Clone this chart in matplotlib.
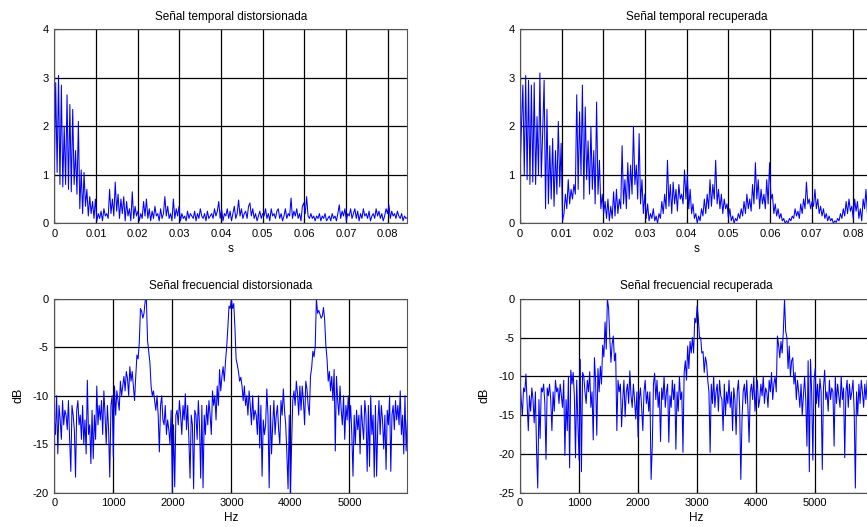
import numpy as np
import matplotlib
matplotlib.use("Agg")
import matplotlib.pyplot as plt

plt.rcParams['font.family'] = ['Liberation Sans', 'DejaVu Sans']
plt.rcParams['axes.unicode_minus'] = False

t_end = 0.0847
f_end = 5980

temporal_distorsionada = [
    1.0, 2.9, 1.05, 3.05, 0.8, 2.85, 0.75, 2.0, 0.8, 2.65, 0.7, 2.45, 0.65, 2.35, 0.8, 1.5, 0.6, 2.1, 0.3, 1.1,
    0.2, 1.05, 0.35, 0.7, 0.15, 0.55, 0.2, 0.45, 0.1, 0.5, 0.05, 0.2, 0.1, 0.25, 0.05, 0.3, 0.15, 0.2, 0.1, 0.7,
    0.2, 0.5, 0.15, 0.85, 0.25, 0.6, 0.1, 0.5, 0.2, 0.55, 0.05, 0.45, 0.15, 0.3, 0.05, 0.65, 0.1, 0.35, 0.15, 0.25,
    0.05, 0.2, 0.1, 0.45, 0.15, 0.5, 0.1, 0.3, 0.05, 0.25, 0.1, 0.35, 0.15, 0.2, 0.05, 0.3, 0.1, 0.2, 0.55, 0.15,
    0.35, 0.1, 0.2, 0.05, 0.5, 0.1, 0.3, 0.15, 0.35, 0.05, 0.2, 0.1, 0.15, 0.05, 0.25, 0.1, 0.2, 0.15, 0.1, 0.25,
    0.05, 0.2, 0.1, 0.3, 0.15, 0.1, 0.2, 0.05, 0.25, 0.1, 0.15, 0.2, 0.1, 0.3, 0.15, 0.25, 0.45, 0.1, 0.3, 0.05,
    0.2, 0.15, 0.3, 0.1, 0.25, 0.05, 0.2, 0.35, 0.1, 0.2, 0.48, 0.15, 0.3, 0.1, 0.2, 0.25, 0.1, 0.35, 0.42, 0.15,
    0.3, 0.1, 0.2, 0.05, 0.15, 0.25, 0.1, 0.2, 0.15, 0.3, 0.1, 0.2, 0.05, 0.3, 0.15, 0.2, 0.1, 0.25, 0.3, 0.1,
    0.2, 0.05, 0.15, 0.3, 0.1, 0.2, 0.15, 0.52, 0.1, 0.25, 0.15, 0.3, 0.1, 0.2, 0.05, 0.35, 0.42, 0.2, 0.55, 0.15,
    0.1, 0.2, 0.1, 0.15, 0.05, 0.15, 0.1, 0.2, 0.05, 0.15, 0.1, 0.2, 0.05, 0.1, 0.15, 0.05, 0.2, 0.1, 0.15, 0.05,
    0.2, 0.38, 0.1, 0.25, 0.15, 0.3, 0.05, 0.2, 0.15, 0.3, 0.1, 0.2, 0.3, 0.1, 0.25, 0.05, 0.2, 0.1, 0.3, 0.15,
    0.2, 0.1, 0.25, 0.05, 0.15, 0.2, 0.1, 0.3, 0.15, 0.25, 0.1, 0.2, 0.05, 0.15, 0.3, 0.2, 0.38, 0.1, 0.25, 0.15,
    0.2, 0.1, 0.25, 0.15, 0.1, 0.2, 0.05, 0.15, 0.1, 0.12,
]

temporal_recuperada = [
    1.0, 2.0, 2.85, 1.0, 3.05, 0.9, 2.95, 0.8, 2.85, 0.85, 2.9, 0.8, 2.2, 1.0, 3.1, 0.95, 1.9, 2.95, 0.3, 2.35,
    0.4, 1.6, 0.5, 1.75, 0.35, 1.5, 0.6, 2.1, 0.75, 1.65, 0.05, 0.2, 0.6, 0.3, 0.9, 0.4, 0.7, 0.5, 0.8, 0.6,
    2.65, 0.7, 2.3, 1.0, 2.85, 0.5, 2.4, 0.9, 1.7, 0.6, 2.0, 0.7, 1.5, 0.4, 2.5, 0.6, 1.3, 0.3, 0.6, 0.2,
    0.45, 0.1, 0.5, 0.05, 0.35, 0.1, 0.65, 0.15, 0.7, 0.2, 0.5, 0.3, 1.6, 0.4, 0.9, 0.3, 1.25, 0.5, 1.2, 0.6,
    2.0, 0.8, 1.2, 0.5, 1.85, 0.4, 0.9, 0.2, 0.6, 0.1, 0.4, 0.05, 0.2, 0.1, 0.3, 0.05, 0.15, 0.0, 0.2, 0.1,
    0.45, 0.2, 0.6, 0.3, 1.3, 0.35, 0.8, 0.2, 0.85, 0.4, 0.7, 0.25, 0.8, 0.5, 0.6, 0.4, 1.1, 0.5, 1.0, 0.3,
    0.7, 0.2, 0.4, 0.1, 0.2, 0.0, 0.15, 0.05, 0.3, 0.15, 0.5, 0.2, 0.6, 0.3, 0.9, 0.35, 0.8, 0.5, 1.3, 0.4,
    0.7, 0.3, 0.6, 0.2, 0.5, 0.3, 0.4, 0.1, 0.3, 0.05, 0.15, 0.0, 0.1, 0.05, 0.2, 0.1, 0.3, 0.15, 0.45, 0.2,
    0.6, 0.3, 0.5, 0.25, 0.8, 0.4, 1.25, 0.5, 0.9, 0.3, 0.7, 0.4, 0.6, 0.3, 0.9, 0.4, 1.25, 0.5, 0.6, 0.2,
    0.4, 0.15, 0.3, 0.1, 0.2, 0.05, 0.1, 0.0, 0.05, 0.0, 0.1, 0.05, 0.15, 0.1, 0.3, 0.15, 0.25, 0.1, 0.4, 0.2,
    0.5, 0.3, 0.85, 0.4, 0.5, 0.3, 0.45, 0.35, 0.7, 0.3, 0.5, 0.2, 0.35, 0.15, 0.3, 0.1, 0.2, 0.05, 0.15, 0.05,
    0.1, 0.0, 0.05, 0.02, 0.1, 0.05, 0.2, 0.1, 0.3, 0.15, 0.45, 0.2, 0.5, 0.25, 0.35, 0.1, 0.5, 0.25, 0.45, 0.1,
    0.3, 0.05, 0.5, 0.3, 0.7, 0.2, 0.4, 0.15, 0.2, 0.15,
]

frecuencial_distorsionada = [
    -12.5, -14, -10, -16, -11, -12.5, -14.5, -10.5, -13, -11.5,
    -12, -13.5, -10.5, -14.5, -17.8, -11, -12, -13.5, -18.4, -11.5,
    -10.5, -13, -12, -14.5, -11, -15, -12.5, -16, -8.4, -14,
    -13, -17, -11.5, -16.5, -12, -14.5, -9, -13, -11, -12.5,
    -10.5, -14, -9.5, -12, -15, -11, -13.5, -18.4, -11, -10,
    -16.3, -9, -12, -9.5, -10.5, -11.5, -8.5, -10, -9, -8,
    -9.5, -7.5, -8.2, -10, -7, -8.5, -7.5, -9, -10.5, -8,
    -5.8, -6.2, -4.5, -1, -1.3, -2, -1.5, -0.2, 0, -4.3,
    -5.5, -6.6, -9, -10, -9.5, -10.5, -11.5, -10, -12, -15.8,
    -11, -10, -12.5, -13, -11, -14, -12.5, -13.5, -15, -11.5,
    -20, -13, -19.4, -12, -11.5, -13, -10.5, -12, -14, -11,
    -12.5, -9.8, -13.5, -11, -14.5, -18.5, -12, -13, -19.6, -11.5,
    -12, -14.5, -10.5, -13, -18.5, -11, -19.5, -12, -14, -11,
    -13, -10.5, -12, -14, -9.5, -11, -10, -12.5, -9, -11,
    -7.3, -9.5, -8, -7, -8.5, -6.5, -5, -3, -0.75, -1,
    0, -1, -0.5, -3, -6.2, -6.8, -7.5, -8.5, -8.1, -9,
    -10.5, -9, -11, -10, -12, -9.5, -11, -13, -10, -12.5,
    -11.5, -12, -14, -10, -15.4, -11, -18.3, -12.5, -14, -13,
    -9.3, -12, -19.5, -11, -16, -13, -10.5, -14, -12, -11,
    -13.5, -15, -10.5, -12, -9.3, -11.5, -13, -16, -19.6, -12,
    -20, -15, -10.5, -9.5, -11, -8.5, -9.8, -12, -9, -11.5,
    -9, -10.5, -13, -8.5, -9.3, -11, -12, -8, -7.1, -5.4,
    -6, -4.9, 0, -1.5, -1.2, -1.6, -2, -1.8, -0.9, -2.2,
    -4.8, -6.2, -8.5, -7.5, -9.5, -8, -10.5, -7.3, -15.7, -8,
    -10.5, -12, -9, -11.5, -13, -10, -14.5, -11, -12.5, -10,
    -13, -11, -14, -18.3, -12, -15, -11.5, -13.5, -12, -16,
    -11, -13, -14.5, -10.5, -12, -17.8, -11, -17.3, -10, -14,
    -12, -18.4, -11, -18.3, -13, -10.5, -14, -11, -12.5, -15.5,
    -12, -17.6, -11.5, -13, -10, -17.8, -12, -11, -13.5, -10.5,
    -12.5, -11, -13, -9.5, -14, -12, -16, -10, -15.7, -12.5,
]

frecuencial_recuperada = [
    -10.5, -13, -15, -11.5, -12, -9.7, -13.5, -17, -12.5, -14.5,
    -11.5, -13, -16, -12, -19.5, -24.4, -13, -18, -11.5, -12,
    -11, -13.5, -20.7, -11.5, -12.5, -11, -13, -17, -12, -14.5,
    -10.5, -12, -11.5, -13.5, -11, -12.5, -14, -10.5, -20.2, -13,
    -17, -10, -21.8, -9.2, -11, -9.5, -12.5, -20.5, -10.5, -16,
    -20.8, -7.8, -22.3, -9.5, -10, -12, -13.5, -10.5, -12, -9.4,
    -14, -12, -18.2, -7.6, -10.5, -17.6, -9, -12, -8.7, -11,
    -6, -7.5, -3, -6.5, 0, -1.2, -5, -8.2, -5.8, -4.8,
    -8, -7, -17, -10.5, -12, -11, -16.5, -13, -10.5, -15.2,
    -12, -11, -13.5, -9.3, -12.5, -14, -11, -13, -15.5, -12,
    -17.8, -13, -11.5, -14, -17, -12, -10.5, -13.5, -12, -14.5,
    -12, -23.3, -19, -11, -9.6, -13, -10.5, -14, -12, -18.4,
    -11.5, -13, -10, -14, -12, -11, -18.5, -12.5, -14, -10.5,
    -13, -11, -19.4, -12, -14.5, -10, -13, -12, -19.8, -9.5,
    -8, -10.5, -6.1, -9, -5.5, -7, -5, -7, -2.5, -3.1,
    -0.9, -2.5, -5, -5, -7, -6.8, -9.5, -7.5, -8.3, -10.5,
    -12, -19.8, -11, -13.5, -10, -14, -12, -11, -14.5, -10.5,
    -12.5, -13, -17, -11, -15, -12, -13.5, -10.5, -14, -12,
    -17, -11.5, -13, -17.5, -12, -10.5, -14, -23.3, -15.5, -12,
    -11, -13.5, -10.5, -14, -18.5, -12, -11, -13, -10, -14.5,
    -12, -10.5, -14, -13, -11, -12.5, -10, -13.5, -11.5, -12,
    -14, -10.5, -12, -9.5, -13, -11, -10, -12, -4.8, -6,
    -7.6, -5.5, -7, -4.2, 0, -4.2, -5, -9, -6.1, -10,
    -8, -7.6, -11, -9.5, -13, -10.5, -12, -14, -11, -15,
    -12.5, -10, -13, -19, -8, -22.3, -7.8, -12, -20.8, -10.5,
    -9, -13.5, -11, -14, -10.3, -12, -22, -11.5, -9.2, -13,
    -12, -14.5, -10.5, -13, -11.5, -12, -19, -10, -13.5, -11,
    -12.5, -14, -10, -13, -11.5, -20.5, -12, -10.5, -14, -11,
    -13, -12, -10.5, -14.5, -24.4, -12, -15, -11, -13.5, -10.5,
    -12, -14, -11, -13, -10.5, -12.5, -15, -11.5, -13, -12,
]

titles = ["Señal temporal distorsionada", "Señal temporal recuperada",
          "Señal frecuencial distorsionada", "Señal frecuencial recuperada"]
time_ticks = [0, 0.01, 0.02, 0.03, 0.04, 0.05, 0.06, 0.07, 0.08]
time_tick_labels = ["0", "0.01", "0.02", "0.03", "0.04", "0.05", "0.06", "0.07", "0.08"]
freq_ticks = [0, 1000, 2000, 3000, 4000, 5000]
freq_tick_labels = ["0", "1000", "2000", "3000", "4000", "5000"]


def draw_panel(ax, x, y, title, xlim, ylim, xticks, xlabels, yticks, xlabel, ylabel=None):
    ax.plot(x, y, color='#0000ff', lw=0.75)
    ax.set_xlim(*xlim)
    ax.set_ylim(*ylim)
    ax.set_xticks(xticks)
    ax.set_xticklabels(xlabels)
    ax.set_yticks(yticks)
    ax.set_yticklabels([str(v) for v in yticks])
    ax.grid(True, color='black', lw=0.9, ls='-')
    ax.set_axisbelow(True)
    ax.tick_params(direction='in', length=3, labelsize=8, pad=4)
    for sp in ax.spines.values():
        sp.set_color('#555555')
        sp.set_linewidth(0.8)
    ax.set_title(title, fontsize=8.5, pad=7)
    ax.set_xlabel(xlabel, fontsize=8.5, labelpad=3)
    if ylabel:
        ax.set_ylabel(ylabel, fontsize=9, labelpad=6)


fig = plt.figure(figsize=(8.67, 5.27), dpi=100)
w, h = 0.4072, 0.368
ax1 = fig.add_axes([0.0626, 0.5763, w, h])
ax2 = fig.add_axes([0.5998, 0.5763, w, h])
ax3 = fig.add_axes([0.0626, 0.0651, w, h])
ax4 = fig.add_axes([0.5998, 0.0651, w, h])

t1 = np.linspace(0, t_end, len(temporal_distorsionada))
t2 = np.linspace(0, t_end, len(temporal_recuperada))
f1 = np.linspace(0, f_end, len(frecuencial_distorsionada))
f2 = np.linspace(0, f_end, len(frecuencial_recuperada))

draw_panel(ax1, t1, temporal_distorsionada, titles[0], (0, t_end), (0, 4),
           time_ticks, time_tick_labels, [0, 1, 2, 3, 4], "s")
draw_panel(ax2, t2, temporal_recuperada, titles[1], (0, t_end), (0, 4),
           time_ticks, time_tick_labels, [0, 1, 2, 3, 4], "s")
draw_panel(ax3, f1, frecuencial_distorsionada, titles[2], (0, f_end), (-20, 0),
           freq_ticks, freq_tick_labels, [-20, -15, -10, -5, 0], "Hz", "dB")
draw_panel(ax4, f2, frecuencial_recuperada, titles[3], (0, f_end), (-25, 0),
           freq_ticks, freq_tick_labels, [-25, -20, -15, -10, -5, 0], "Hz", "dB")

fig.savefig("out.png", dpi=100)
